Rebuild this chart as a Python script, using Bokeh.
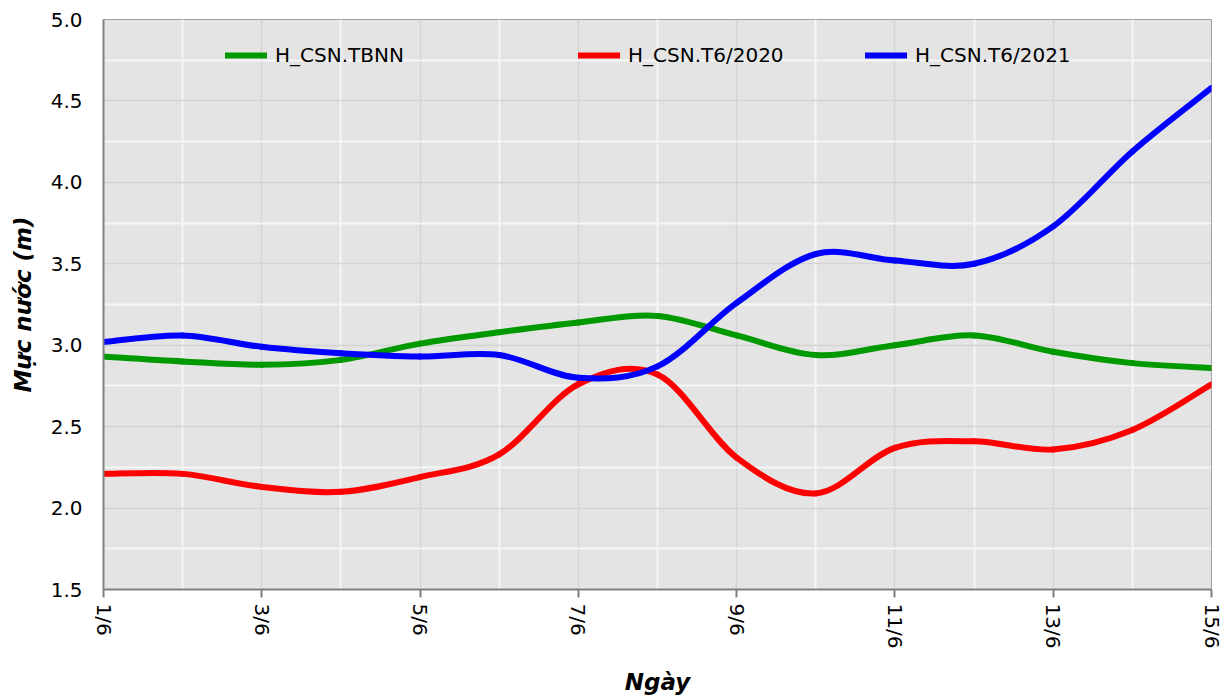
import math
from bokeh.plotting import figure
from bokeh.models import (ColumnDataSource, FixedTicker, Legend, LegendItem, Range1d)
from bokeh.embed import file_html
from bokeh.resources import INLINE

# ---- data ----
day_labels = ["1/6", "2/6", "3/6", "4/6", "5/6", "6/6", "7/6", "8/6",
              "9/6", "10/6", "11/6", "12/6", "13/6", "14/6", "15/6"]
days = list(range(1, 16))
tbnn = [2.93, 2.90, 2.88, 2.91, 3.01, 3.08, 3.14, 3.18, 3.06, 2.94, 3.00, 3.06, 2.96, 2.89, 2.86]
t6_2020 = [2.21, 2.21, 2.13, 2.10, 2.19, 2.33, 2.76, 2.82, 2.31, 2.09, 2.37, 2.41, 2.36, 2.48, 2.76]
t6_2021 = [3.02, 3.06, 2.99, 2.95, 2.93, 2.94, 2.80, 2.87, 3.26, 3.56, 3.52, 3.50, 3.73, 4.19, 4.58]
series_names = ["H_CSN.TBNN", "H_CSN.T6/2020", "H_CSN.T6/2021"]
series_colors = ["#009900", "#ff0000", "#0000ff"]
y_ticks = [1.5, 2.0, 2.5, 3.0, 3.5, 4.0, 4.5, 5.0]

FONT = "DejaVu Sans"


def smooth_segments(xs, ys):
    """Cubic Bezier control points (Catmull-Rom style smoothing) for each segment."""
    n = len(xs)
    x0, y0, x1, y1, cx0, cy0, cx1, cy1 = ([] for _ in range(8))
    for i in range(n - 1):
        ip = max(i - 1, 0)
        inx = min(i + 2, n - 1)
        x0.append(xs[i]); y0.append(ys[i])
        x1.append(xs[i + 1]); y1.append(ys[i + 1])
        cx0.append(xs[i] + (xs[i + 1] - xs[ip]) / 6.0)
        cy0.append(ys[i] + (ys[i + 1] - ys[ip]) / 6.0)
        cx1.append(xs[i + 1] - (xs[inx] - xs[i]) / 6.0)
        cy1.append(ys[i + 1] - (ys[inx] - ys[i]) / 6.0)
    return ColumnDataSource(dict(x0=x0, y0=y0, x1=x1, y1=y1,
                                 cx0=cx0, cy0=cy0, cx1=cx1, cy1=cy1))


p = figure(frame_width=1108, frame_height=570, output_backend="svg",
           toolbar_location=None, x_range=Range1d(1, 15), y_range=Range1d(1.5, 5.0),
           min_border_left=103, min_border_top=19, min_border_right=12, min_border_bottom=98,
           background_fill_color="#e4e4e4", border_fill_color="white")
p.outline_line_color = "#a0a0a0"
p.outline_line_width = 1

renderers = []
for vals, col in zip([tbnn, t6_2020, t6_2021], series_colors):
    src = smooth_segments(days, vals)
    r = p.bezier(x0="x0", y0="y0", x1="x1", y1="y1", cx0="cx0", cy0="cy0",
                 cx1="cx1", cy1="cy1", source=src, line_color=col, line_width=6,
                 line_cap="round")
    renderers.append(r)

# ticks / grids
p.xaxis.ticker = FixedTicker(ticks=days[::2], minor_ticks=days[1::2])
p.xaxis.major_label_overrides = {d: lab for d, lab in zip(days, day_labels)}
p.yaxis.ticker = FixedTicker(ticks=y_ticks,
                             minor_ticks=[t + 0.25 for t in y_ticks[:-1]])
p.yaxis.major_label_overrides = {t: f"{t:.1f}" for t in y_ticks}

for g in (p.xgrid, p.ygrid):
    g.grid_line_color = "#d4d4d4"
    g.grid_line_width = 1.5
    g.minor_grid_line_color = "#f6f6f6"
    g.minor_grid_line_width = 2

for ax in (p.xaxis, p.yaxis):
    ax.axis_line_color = "#808080"
    ax.axis_line_width = 2
    ax.minor_tick_line_color = None
    ax.major_label_text_font = FONT
    ax.major_label_text_font_size = "20px"
    ax.major_label_text_color = "black"
    ax.axis_label_text_font = FONT
    ax.axis_label_text_font_size = "23px"
    ax.axis_label_text_font_style = "bold italic"
    ax.axis_label_text_color = "black"

p.xaxis.major_tick_line_color = "#808080"
p.xaxis.major_tick_line_width = 2
p.xaxis.major_tick_out = 8
p.xaxis.major_tick_in = 0
p.xaxis.major_label_orientation = -math.pi / 2
p.xaxis.major_label_standoff = 6
p.xaxis.axis_label = "Ngày"
p.xaxis.axis_label_standoff = 18

p.yaxis.major_tick_line_color = None
p.yaxis.major_tick_out = 0
p.yaxis.major_tick_in = 0
p.yaxis.major_label_standoff = 17
p.yaxis.axis_label = "Mực nước (m)"
p.yaxis.axis_label_standoff = 12

# legends: three single-item legends placed along the top of the frame
legend_x = [122, 475, 762]
for name, r, lx in zip(series_names, renderers, legend_x):
    lg = Legend(items=[LegendItem(label=name, renderers=[r])],
                location=(lx, 522), orientation="horizontal",
                background_fill_alpha=0, border_line_color=None,
                padding=0, margin=0, glyph_width=42, glyph_height=20,
                label_standoff=8, label_text_font=FONT,
                label_text_font_size="20px", label_text_color="black")
    p.add_layout(lg, "center")

open("out.html", "w").write(file_html(p, INLINE))
